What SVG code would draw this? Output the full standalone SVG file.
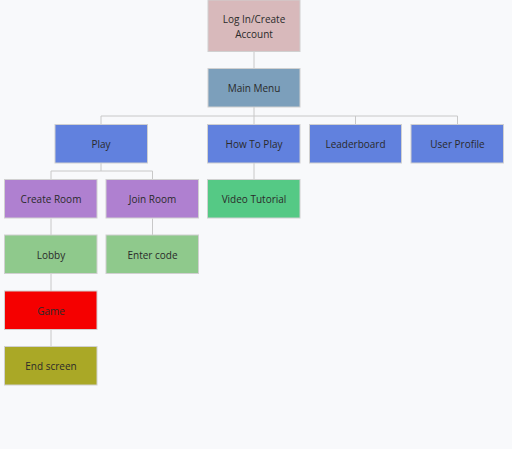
<svg xmlns="http://www.w3.org/2000/svg" width="512" height="449" viewBox="0 0 512 449">
<style>
.b{stroke:#d0d0d0;stroke-width:1}
.t{font-family:"Open Sans","Noto Sans",sans-serif;font-size:10px;fill:#2a2a2a;text-anchor:middle;dominant-baseline:central}
.c{fill:none;stroke:#c8c8c8;stroke-width:1}
</style>
<rect width="512" height="449" fill="#f8f9fb"/>
<g id="connectors">
<path class="c" d="M254 51V68M254 107V124M101 116H457.5M101 116V124M355.5 116V124M457.5 116V124M101 163V171M51 171H152.5M51 171V179.5M152.5 171V179.5M254 163V179.5M51 218.5V235M152.5 218.5V235M51 274V291M51 330V346"/>
</g>
<g id="login"><rect class="b" x="208" y="0" width="92" height="51.5" fill="#d8b9bb"/><text class="t" x="254" y="19">Log In/Create</text><text class="t" x="254" y="33.5">Account</text></g>
<g id="mainmenu"><rect class="b" x="208" y="68.5" width="92" height="38.5" fill="#7c9fbb"/><text class="t" x="254" y="88">Main Menu</text></g>
<g id="play"><rect class="b" x="55" y="124.5" width="92.5" height="38.5" fill="#6181de"/><text class="t" x="101" y="144">Play</text></g>
<g id="howtoplay"><rect class="b" x="207.5" y="124.5" width="92.5" height="38.5" fill="#6181de"/><text class="t" x="254" y="144">How To Play</text></g>
<g id="leaderboard"><rect class="b" x="309.5" y="124.5" width="92" height="38.5" fill="#6181de"/><text class="t" x="355.5" y="144">Leaderboard</text></g>
<g id="userprofile"><rect class="b" x="411" y="124.5" width="92.5" height="38.5" fill="#6181de"/><text class="t" x="457.5" y="144">User Profile</text></g>
<g id="createroom"><rect class="b" x="4.5" y="179.5" width="92.5" height="38.5" fill="#af80d0"/><text class="t" x="51" y="199">Create Room</text></g>
<g id="joinroom"><rect class="b" x="106" y="179.5" width="92.5" height="38.5" fill="#af80d0"/><text class="t" x="152.5" y="199">Join Room</text></g>
<g id="videotutorial"><rect class="b" x="207.5" y="179.5" width="92.5" height="38.5" fill="#55c985"/><text class="t" x="254" y="199">Video Tutorial</text></g>
<g id="lobby"><rect class="b" x="4.5" y="235" width="92.5" height="38.5" fill="#8fc98c"/><text class="t" x="51" y="254.5">Lobby</text></g>
<g id="entercode"><rect class="b" x="106" y="235" width="92.5" height="38.5" fill="#8fc98c"/><text class="t" x="152.5" y="254.5">Enter code</text></g>
<g id="game"><rect class="b" x="4.5" y="291" width="92.5" height="38.5" fill="#f50000"/><text class="t" x="51" y="310.5">Game</text></g>
<g id="endscreen"><rect class="b" x="4.5" y="346.5" width="92.5" height="38.5" fill="#aaa826"/><text class="t" x="51" y="366">End screen</text></g>
</svg>
